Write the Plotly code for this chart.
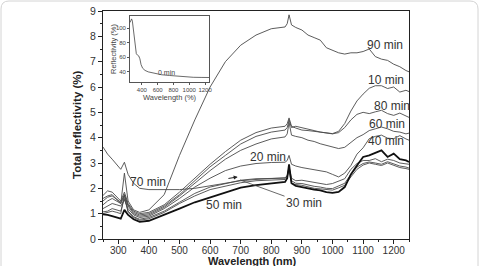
import plotly.graph_objects as go

# ---------------- data ----------------
wavelength = [250, 265, 280, 295, 308, 320, 332, 350, 370, 400,
              450, 500, 550, 600, 650, 700, 750, 800, 845, 852, 858, 866,
              880, 900, 920, 940, 960, 980, 1000, 1020, 1040, 1060, 1080, 1100,
              1120, 1140, 1160, 1180, 1200, 1220, 1240, 1250]

r90 = [1.6, 1.7, 1.75, 1.55, 1.4, 2.6, 1.5, 1.15, 1.05, 1.15,
       1.75, 3.3, 4.7, 6.0, 7.0, 7.65, 8.05, 8.3, 8.37, 8.5, 8.85, 8.45,
       8.35, 8.25, 8.05, 7.95, 7.85, 7.55, 7.45, 7.35, 7.3, 7.35, 7.35, 7.4,
       7.5, 7.2, 7.1, 7.05, 6.9, 6.8, 6.65, 6.6]
r10 = [1.72, 1.9, 1.85, 1.65, 1.5, 1.85, 1.4, 1.1, 1.0, 1.05,
       1.35, 1.85, 2.4, 2.95, 3.45, 3.9, 4.2, 4.38, 4.45, 4.55, 4.78, 4.45,
       4.38, 4.3, 4.28, 4.25, 4.22, 4.2, 4.16, 4.25, 4.56, 5.05, 5.45, 5.72,
       5.95, 6.05, 6.05, 5.94, 6.0, 5.8, 5.87, 5.82]
r80 = [1.5, 1.65, 1.7, 1.55, 1.45, 1.75, 1.35, 1.05, 0.95, 1.0,
       1.3, 1.75, 2.3, 2.85, 3.3, 3.75, 4.05, 4.22, 4.3, 4.4, 4.7, 4.4,
       4.45, 4.4, 4.33, 4.28, 4.22, 4.18, 4.15, 4.2, 4.4, 4.7, 4.92, 5.0,
       4.95, 5.02, 5.08, 4.95, 4.88, 4.97, 4.85, 4.8]
r60 = [1.35, 1.5, 1.6, 1.5, 1.4, 1.7, 1.3, 1.0, 0.9, 0.95,
       1.25, 1.7, 2.2, 2.7, 3.15, 3.5, 3.75, 3.95, 4.03, 4.15, 4.6, 4.1,
       4.05, 4.0, 3.9, 3.85, 3.76, 3.7, 3.62, 3.57, 3.62, 3.8, 4.0, 4.12,
       4.28, 4.35, 4.42, 4.35, 4.25, 4.22, 4.15, 4.18]
r20 = [1.2, 1.3, 1.4, 1.35, 1.3, 1.55, 1.2, 0.95, 0.85, 0.9,
       1.2, 1.6, 2.05, 2.4, 2.7, 2.88, 2.98, 3.02, 3.03, 3.1, 3.3, 2.95,
       2.88, 2.82, 2.78, 2.72, 2.68, 2.65, 2.55, 2.45, 2.6, 2.9, 3.35, 3.6,
       3.96, 4.05, 4.1, 3.98, 3.96, 4.08, 3.95, 3.9]
r50 = [0.97, 0.95, 0.9, 0.85, 0.8, 1.15, 0.95, 0.78, 0.68, 0.72,
       0.95, 1.2, 1.45, 1.65, 1.85, 2.03, 2.13, 2.2, 2.25, 2.4, 2.95, 2.2,
       2.1, 2.05, 1.99, 1.95, 1.92, 1.85, 1.82, 1.86, 2.05, 2.55, 2.9, 3.24,
       3.3, 3.4, 3.5, 3.24, 3.37, 3.15, 3.1, 3.04]
r70 = [3.63, 3.35, 3.15, 2.95, 2.75, 3.03, 2.55, 2.2, 2.0, 1.95,
       1.95, 1.95, 2.0, 2.1, 2.2, 2.3, 2.35, 2.38, 2.42, 2.5, 2.85, 2.4,
       2.3, 2.32, 2.28, 2.22, 2.2, 2.15, 2.19, 2.3, 2.38, 2.75, 2.98, 3.1,
       3.1, 3.17, 3.05, 3.15, 3.1, 3.0, 2.98, 2.95]
r30 = [1.07, 1.1, 1.2, 1.15, 1.1, 1.6, 1.1, 0.88, 0.78, 0.85,
       1.1, 1.45, 1.8, 2.05, 2.2, 2.32, 2.38, 2.4, 2.4, 2.5, 2.8, 2.3,
       2.2, 2.19, 2.12, 2.08, 2.05, 2.0, 1.99, 2.1, 2.2, 2.55, 2.84, 2.98,
       3.04, 3.0, 2.95, 3.05, 2.95, 2.88, 2.84, 2.8]
r40 = [1.0, 1.05, 1.1, 1.05, 1.0, 1.75, 1.05, 0.85, 0.74, 0.8,
       1.05, 1.4, 1.7, 1.95, 2.1, 2.22, 2.3, 2.33, 2.35, 2.45, 2.7, 2.2,
       2.15, 2.12, 2.05, 2.0, 1.98, 1.95, 1.93, 2.02, 2.12, 2.45, 2.75, 2.92,
       3.0, 2.95, 2.9, 3.0, 2.9, 2.82, 2.78, 2.75]

inset_wl = [250, 260, 270, 280, 290, 300, 315, 330, 345, 360, 375, 390, 410,
            440, 480, 550, 650, 750, 850, 950, 1050, 1150, 1250]
inset_r0 = [108, 112, 113, 110, 100, 88, 72, 65, 63, 62, 58, 50, 45,
            42, 40, 38, 36, 35, 34, 33, 32.5, 32.3, 32.2]

labels = ["90 min", "10 min", "80 min", "60 min", "40 min",
          "20 min", "30 min", "50 min", "70 min"]
label_x = [1172, 1175, 1195, 1179, 1174, 790, 907, 647, 397]
label_y = [7.65, 6.26, 5.24, 4.53, 3.87, 3.22, 1.41, 1.33, 2.24]

# ---------------- figure ----------------
W, H = 481, 266
L, R, T, B = 103, 72, 11, 27
PW, PH = W - L - R, H - T - B

def px(x):
    return (x - L) / PW

def py(y):
    return (H - B - y) / PH

fig = go.Figure()
thin = dict(color="#4a4a4a", width=0.9)
for series in [r90, r10, r80, r60, r20, r70, r30, r40]:
    fig.add_trace(go.Scatter(x=wavelength, y=series, mode="lines",
                             line=thin, showlegend=False, hoverinfo="skip"))
fig.add_trace(go.Scatter(x=wavelength, y=r50, mode="lines",
                         line=dict(color="#111111", width=1.8),
                         showlegend=False, hoverinfo="skip"))

fig.add_trace(go.Scatter(x=inset_wl, y=inset_r0, mode="lines",
                         line=dict(color="#444444", width=0.8),
                         xaxis="x2", yaxis="y2", showlegend=False,
                         hoverinfo="skip"))

font = "Liberation Sans, Arial, sans-serif"
ann = []
for t, x, y in zip(labels, label_x, label_y):
    if t == "30 min":
        continue
    ann.append(dict(x=x, y=y, text=t, showarrow=False, xref="x", yref="y",
                    xanchor="center", yanchor="middle",
                    font=dict(size=12, color="#333333", family=font)))
ann.append(dict(x=698, y=2.33, ax=label_x[6], ay=label_y[6], axref="x",
                ayref="y", xref="x", yref="y", text="30 min", showarrow=True,
                arrowhead=0, arrowwidth=0.8, arrowcolor="#444444",
                font=dict(size=12, color="#333333", family=font)))
ann.append(dict(x=690, y=2.45, ax=655, ay=2.38, axref="x", ayref="y",
                xref="x", yref="y", text="", showarrow=True, arrowhead=2,
                arrowsize=0.8, arrowwidth=1, arrowcolor="#222222"))
ann.append(dict(x=709, y=34.5, xref="x2", yref="y2", text="0 min",
                showarrow=False, yshift=3, xanchor="center", yanchor="middle",
                font=dict(size=7, color="#444444", family=font)))
ann.append(dict(x=px(77), y=py(125), xref="paper", yref="paper",
                text="<b>Total reflectivity (%)</b>", textangle=-90,
                showarrow=False, xanchor="center", yanchor="middle",
                font=dict(size=11.5, color="#222222", family=font)))
ann.append(dict(x=px(252), y=py(260.5), xref="paper", yref="paper",
                text="<b>Wavelength (nm)</b>", showarrow=False,
                xanchor="center", yanchor="middle",
                font=dict(size=11, color="#222222", family=font)))
ann.append(dict(x=px(114), y=py(49), xref="paper", yref="paper",
                text="Reflectivity (%)", textangle=-90, showarrow=False,
                xanchor="center", yanchor="middle",
                font=dict(size=7.5, color="#444444", family=font)))
ann.append(dict(x=px(170), y=py(98), xref="paper", yref="paper",
                text="Wavelength (%)", showarrow=False,
                xanchor="center", yanchor="middle",
                font=dict(size=7.5, color="#444444", family=font)))

shapes = [dict(type="path", xref="paper", yref="paper",
               path=(f"M {px(1)},{py(300)} L {px(1)},{py(9)} "
                     f"Q {px(1)},{py(1)} {px(9)},{py(1)} "
                     f"L {px(470)},{py(1)} Q {px(478)},{py(1)} {px(478)},{py(9)} "
                     f"L {px(478)},{py(300)}"),
               line=dict(color="#d4d4d4", width=1))]

axis_common = dict(showline=True, linecolor="#222222", linewidth=1,
                   mirror=True, ticks="outside", showgrid=False,
                   zeroline=False, tickcolor="#222222")

fig.update_layout(
    width=W, height=H, autosize=False,
    margin=dict(l=L, r=R, t=T, b=B, autoexpand=False),
    paper_bgcolor="white", plot_bgcolor="white",
    font=dict(family=font, color="#333333"),
    xaxis=dict(range=[250, 1250], tickvals=[300, 400, 500, 600, 700, 800, 900, 1000, 1100, 1200],
               ticklen=4, tickwidth=1, ticklabelstandoff=-2,
               minor=dict(ticks="outside", ticklen=2, dtick=50, tick0=0,
                          tickcolor="#222222"),
               tickfont=dict(size=10, color="#333333"),
               **axis_common),
    yaxis=dict(range=[0, 9], dtick=1, ticklen=4, tickwidth=1,
               minor=dict(ticks="outside", ticklen=2, dtick=0.5,
                          tickcolor="#222222"),
               tickfont=dict(size=10.5, color="#333333"),
               **axis_common),
    xaxis2=dict(domain=[px(130), px(209)], anchor="y2", range=[250, 1250],
                tickvals=[400, 600, 800, 1000, 1200], ticklen=2,
                tickangle=0, tickfont=dict(size=6, color="#444444"),
                showline=True, linecolor="#555555", linewidth=0.8,
                mirror=True, ticks="outside", showgrid=False, zeroline=False,
                tickcolor="#555555"),
    yaxis2=dict(domain=[py(82), py(16)], anchor="x2", range=[26, 117],
                tickvals=[40, 60, 80, 100], ticklen=2,
                tickfont=dict(size=6, color="#444444"),
                showline=True, linecolor="#555555", linewidth=0.8,
                mirror=True, ticks="outside", showgrid=False, zeroline=False,
                tickcolor="#555555"),
    annotations=ann,
    shapes=shapes,
)

fig.write_html("out.html")
